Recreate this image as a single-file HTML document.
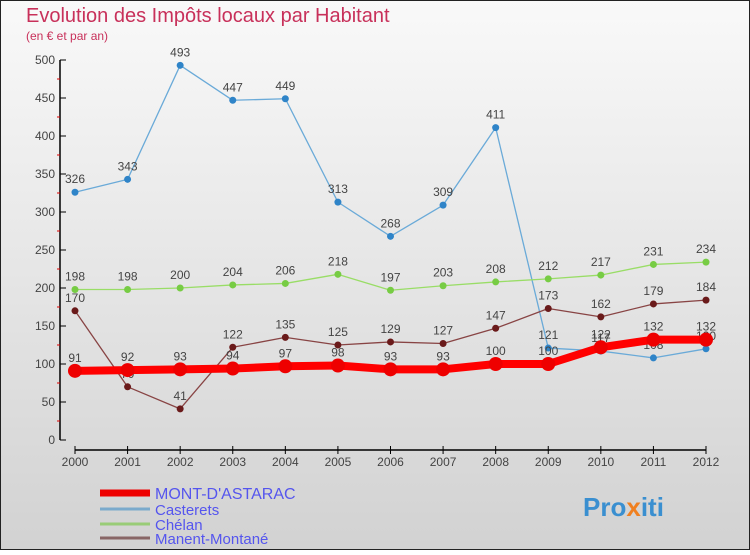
<!DOCTYPE html>
<html><head><meta charset="utf-8"><style>
html,body{margin:0;padding:0}
body{width:750px;height:550px;overflow:hidden;font-family:"Liberation Sans",sans-serif}
</style></head><body>
<svg id="c" width="750" height="550" xmlns="http://www.w3.org/2000/svg">
<defs><linearGradient id="bg" x1="0" y1="0" x2="0" y2="1"><stop offset="0" stop-color="#f9f9f9"/><stop offset="1" stop-color="#d2d2d2"/></linearGradient></defs>
<rect x="0.5" y="0.5" width="749" height="549" fill="url(#bg)" stroke="#222"/>
<text x="26" y="22" font-size="20" fill="#c8305a">Evolution des Impôts locaux par Habitant</text>
<text x="26" y="40" font-size="12" fill="#c8305a">(en € et par an)</text>
<g id="axes"></g><g id="series"></g><g id="legend"></g>
<text x="583" y="516" font-size="26" font-weight="bold" fill="#3a8fd0">Pro<tspan fill="#f08020">x</tspan>iti</text>
</svg>
<script>
const years=[2000,2001,2002,2003,2004,2005,2006,2007,2008,2009,2010,2011,2012];
const yTicks=[0,50,100,150,200,250,300,350,400,450,500];
const seriesNames=["MONT-D'ASTARAC","Casterets","Chélan","Manent-Montané"];
const mont=[91,92,93,94,97,98,93,93,100,100,122,132,132];
const casterets=[326,343,493,447,449,313,268,309,411,121,117,108,120];
const chelan=[198,198,200,204,206,218,197,203,208,212,217,231,234];
const manent=[170,70,41,122,135,125,129,127,147,173,162,179,184];
const NS="http://www.w3.org/2000/svg";
const X=i=>75+i*(706-75)/(years.length-1);
const Y=v=>440-v*0.76;
function mk(t,a,p){const e=document.createElementNS(NS,t);for(const k in a)e.setAttribute(k,a[k]);p.appendChild(e);return e;}
const ax=document.getElementById('axes');
let e=mk('line',{x1:60,y1:60,x2:60,y2:440,stroke:'#000','stroke-width':1.5},ax);


yTicks.forEach(v=>{
  mk('line',{x1:60,y1:Y(v),x2:66,y2:Y(v),stroke:'#000'},ax);
  const t=mk('text',{x:55,y:Y(v)+4,'font-size':12,fill:'#444','text-anchor':'end'},ax);t.textContent=v;
  
  
  if(v<500)mk('line',{x1:57,y1:Y(v+25),x2:60,y2:Y(v+25),stroke:'#d00'},ax);
});
e=mk('line',{x1:75,y1:450,x2:706,y2:450,stroke:'#000','stroke-width':1.5},ax);


years.forEach((y,i)=>{
  mk('line',{x1:X(i),y1:446,x2:X(i),y2:454,stroke:'#000'},ax);
  const t=mk('text',{x:X(i),y:466,'font-size':12,fill:'#444','text-anchor':'middle'},ax);t.textContent=y;
  
  
});
const sg=document.getElementById('series');
function draw(vals,color,dot,lw,r,name){
  const g=mk('g',{},sg);
  
  
  mk('polyline',{points:vals.map((v,i)=>X(i)+','+Y(v)).join(' '),fill:'none',stroke:color,'stroke-width':lw,'stroke-linejoin':'round'},g);
  vals.forEach((v,i)=>{
    const c=mk('circle',{cx:X(i),cy:Y(v),r:r,fill:dot},g);
    
    
    const t=mk('text',{x:X(i),y:Y(v)-9,'font-size':12,fill:'#444','text-anchor':'middle'},g);t.textContent=v;
    
    
  });
}
draw(casterets,'#6aaad8','#2f84c8',1.3,3.5,'casterets-series');
draw(chelan,'#99dd66','#77cc44',1.3,3.5,'chelan-series');
draw(manent,'#884444','#6a1a1a',1.3,3.5,'manent-montane-series');
draw(mont,'#ff0000','#ee0000',8,7,'mont-dastarac-series');
const lg=document.getElementById('legend');
const lc=['#ee0000','#7aaacc','#99cc77','#886666'],lw=[7,3,3,3],ly=[493,509,524,538];
seriesNames.forEach((n,i)=>{
  const l=mk('line',{x1:100,y1:ly[i],x2:150,y2:ly[i],stroke:lc[i],'stroke-width':lw[i]},lg);
  
  
  const t=mk('text',{x:155,y:ly[i]+6,'font-size':i==0?16:15,fill:'#5555ee'},lg);t.textContent=n;
  
  
});
</script>
</body></html>
